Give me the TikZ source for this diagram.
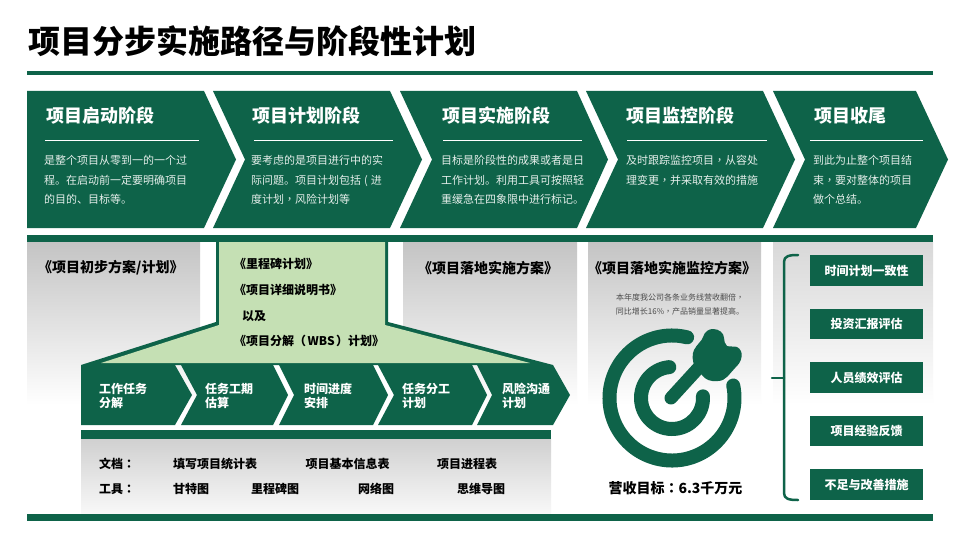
\documentclass[tikz,border=0pt]{standalone}
\usepackage{fontspec}
\setmainfont{Noto Sans CJK SC}
\newfontfamily\tcfont{Noto Sans CJK TC}
\newcommand{\tcp}[1]{{\tcfont #1}}
\definecolor{dgreen}{HTML}{0E6349}
\definecolor{lgreen}{HTML}{C5E0B4}
\definecolor{bodyw}{HTML}{E4EEEA}
\definecolor{pgray}{HTML}{C4C4C4}
\definecolor{pgrayl}{HTML}{D8D8D8}
\definecolor{pmid}{HTML}{E8E8E8}
\definecolor{pmidl}{HTML}{F0F0F0}
\definecolor{dtop}{HTML}{D0D0D0}
\definecolor{dbot}{HTML}{F8F8F8}
\tikzset{
  chev/.style={fill=dgreen,draw=none},
  rulew/.style={draw=white,line width=1pt},
  head/.style={anchor=west,inner sep=0,text=white,font=\fontsize{18}{22}\selectfont\bfseries},
  body/.style={anchor=west,inner sep=0,text=bodyw,align=left,font=\fontsize{11}{19.7}\selectfont},
  ptitle/.style={anchor=west,inner sep=0,text=black,font=\fontsize{14}{16}\selectfont\bfseries},
  gtext/.style={anchor=west,inner sep=0,text=black,font=\fontsize{12}{15}\selectfont\bfseries},
  ctext/.style={anchor=west,inner sep=0,text=white,align=left,font=\fontsize{12}{14}\selectfont\bfseries},
  dtext/.style={anchor=west,inner sep=0,text=black,font=\fontsize{12}{15}\selectfont\bfseries},
  boxg/.style={anchor=center,inner sep=0,fill=dgreen,text=white,minimum width=113pt,minimum height=30.5pt,font=\fontsize{12}{15}\selectfont\bfseries},
  panel/.style={top color=pgray,middle color=pmid,bottom color=white,draw=none},
  panell/.style={top color=pgrayl,middle color=pmidl,bottom color=white,draw=none},
  small/.style={anchor=center,inner sep=0,text=black!70,align=center,font=\fontsize{8}{14}\selectfont}
}
\begin{document}
\begin{tikzpicture}[x=1pt,y=-1pt]
\useasboundingbox (0,0) rectangle (960,540);
\fill[white] (0,0) rectangle (960,540);
% title
\node[anchor=west,inner sep=0,text=black,font=\fontsize{32}{36}\selectfont\bfseries] (title) at (28,41) {项目分步实施路径与阶段性计划};
\fill[dgreen] (27,71) rectangle (933,75);
% top chevrons
\fill[chev] (27,91) -- (204,91) -- (236,159.5) -- (204,228) -- (27,228) -- cycle;
\fill[chev] (213,91) -- (390,91) -- (422,159.5) -- (390,228) -- (213,228) -- (245,159.5) -- cycle;
\fill[chev] (400,91) -- (577,91) -- (608,159.5) -- (577,228) -- (400,228) -- (432,159.5) -- cycle;
\fill[chev] (586,91) -- (763,91) -- (795,159.5) -- (763,228) -- (586,228) -- (618,159.5) -- cycle;
\fill[chev] (773,91) -- (916,91) -- (948,159.5) -- (916,228) -- (773,228) -- (805,159.5) -- cycle;
\node[head] (h1) at (46,116) {项目启动阶段};
\node[head] (h2) at (252,116) {项目计划阶段};
\node[head] (h3) at (442,116) {项目实施阶段};
\node[head] (h4) at (626,116) {项目监控阶段};
\node[head] (h5) at (814,116) {项目收尾};
\draw[rulew] (45,140.5) -- (199,140.5);
\draw[rulew] (254,140.5) -- (393,140.5);
\draw[rulew] (443,140.5) -- (582,140.5);
\draw[rulew] (627,140.5) -- (767,140.5);
\draw[rulew] (810,140.5) -- (923,140.5);
\node[body] (b1) at (44,180) {是整个项目从零到一的一个过\\程。在启动前一定要明确项目\\的目的、目标等。};
\node[body] (b2) at (251,180) {要考虑的是项目进行中的实\\际问题。项目计划包括\hspace{3pt}(\hspace{3pt}进\\度计划\tcp{，}风险计划等};
\node[body] (b3) at (441,180) {目标是阶段性的成果或者是日\\工作计划。利用工具可按照轻\\重缓急在四象限中进行标记。};
\node[body] (b4) at (626,170) {及时跟踪监控项目\tcp{，}从容处\\理变更\tcp{，}并采取有效的措施};
\node[body] (b5) at (813,180) {到此为止整个项目结\\束\tcp{，}要对整体的项目\\做个总结。};
% panels
\shade[panel] (27,242) rectangle (200,405);
\shade[panel] (403,242) rectangle (577,405);
\shade[panel] (588,242) rectangle (761,405);
\shade[panell] (773,242) rectangle (933,405);
\fill[dgreen] (27,234.5) rectangle (933,242);
% green funnel
\fill[dgreen] (216,242) -- (388,242) -- (388,322) -- (553,365) -- (81,365) -- (216,322) -- cycle;
\fill[lgreen] (219,242) -- (385,242) -- (385,325) -- (530,363) -- (101,363) -- (219,325) -- cycle;
\node[ptitle] (p1) at (38,268) {《项目初步方案/计划》};
\node[ptitle] (p2) at (418,268) {《项目落地实施方案》};
\node[ptitle] (p3) at (588,268) {《项目落地实施监控方案》};
\node[gtext] (g1) at (234,264) {《里程碑计划》};
\node[gtext] (g2) at (234,290) {《项目详细说明书》};
\node[gtext] (g3) at (242,316) {以及};
\node[gtext] (g4) at (234,341) {《项目分解（\hspace{1.5pt}WBS\hspace{1.5pt}）计划》};
% lower chevrons
\fill[chev] (81,365) -- (175,365) -- (192,395) -- (175,425) -- (81,425) -- cycle;
\fill[chev] (181,365) -- (273,365) -- (288,395) -- (273,425) -- (181,425) -- (197,395) -- cycle;
\fill[chev] (279,365) -- (373,365) -- (388,395) -- (373,425) -- (279,425) -- (294,395) -- cycle;
\fill[chev] (378,365) -- (472,365) -- (487,395) -- (472,425) -- (378,425) -- (394,395) -- cycle;
\fill[chev] (477,365) -- (553,365) -- (570,395) -- (553,425) -- (477,425) -- (492,395) -- cycle;
\node[ctext] (c1) at (99,396) {工作任务\\分解};
\node[ctext] (c2) at (205,396) {任务工期\\估算};
\node[ctext] (c3) at (304,396) {时间进度\\安排};
\node[ctext] (c4) at (402,396) {任务分工\\计划};
\node[ctext] (c5) at (502,396) {风险沟通\\计划};
% docs box
\shade[top color=dtop,bottom color=dbot,draw=none] (81,439) rectangle (551,513);
\fill[dgreen] (81,430) rectangle (551,439);
\node[dtext] (d1) at (99,464) {文档\tcp{：}};
\node[dtext] (d2) at (173,464) {填写项目统计表};
\node[dtext] (d3) at (305.5,464) {项目基本信息表};
\node[dtext] (d4) at (437,464) {项目进程表};
\node[dtext] (t1) at (99,489) {工具\tcp{：}};
\node[dtext] (t2) at (173,489) {甘特图};
\node[dtext] (t3) at (251,489) {里程碑图};
\node[dtext] (t4) at (358,489) {网络图};
\node[dtext] (t5) at (457,489) {思维导图};
% target
\node[small] (s1) at (680,304.5) {本年度我公司各条业务线营收翻倍\tcp{，}\\同比增长16\%\tcp{，}产品销量显著提高。};
\begin{scope}[shift={(672,398)},y=1pt]
  \draw[dgreen,line width=14pt,line cap=round] (76:62.5) arc[start angle=76,end angle=371.5,radius=62.5];
  \draw[dgreen,line width=14pt,line cap=round] (95:31) arc[start angle=95,end angle=363,radius=31];
  \draw[dgreen,line width=13pt,line cap=round] (-1,0) -- (31,35);
  \fill[dgreen] (23,31) .. controls (20,37) and (20,44) .. (22,48) .. controls (25,54) and (30,57) .. (31,61) .. controls (33,67) and (37,69) .. (41,69) .. controls (47,69) and (52,65) .. (52,60) .. controls (52,57) and (53,54) .. (55,52) .. controls (58,51) and (62,52) .. (65,51) .. controls (69,49) and (70,45) .. (69.7,41.7) .. controls (69,36) and (66,33) .. (63,30) .. controls (58,25) and (54,17) .. (46,17) .. controls (40,16) and (33,18) .. (30,23) -- cycle;
\end{scope}
\node[anchor=center,inner sep=0,text=black,font=\fontsize{14}{17}\selectfont\bfseries] (goal) at (675.5,488) {营收目标\tcp{：}6.3千万元};
% right boxes
\node[boxg] (r1) at (866.5,270.5) {时间计划一致性};
\node[boxg] (r2) at (866.5,324) {投资汇报评估};
\node[boxg] (r3) at (866.5,377.5) {人员绩效评估};
\node[boxg] (r4) at (866.5,431) {项目经验反馈};
\node[boxg] (r5) at (866.5,484.5) {不足与改善措施};
\draw[dgreen,line width=2.5pt,line cap=round,line join=round] (798,255) .. controls (789,255) and (784,256) .. (784,262) -- (784,493) .. controls (784,499) and (789,500) .. (798,500);
\draw[dgreen,line width=2.5pt,line cap=round] (772,378) -- (784,378);
% bottom bar
\fill[dgreen] (27,514) rectangle (933,521);
\end{tikzpicture}
\end{document}
